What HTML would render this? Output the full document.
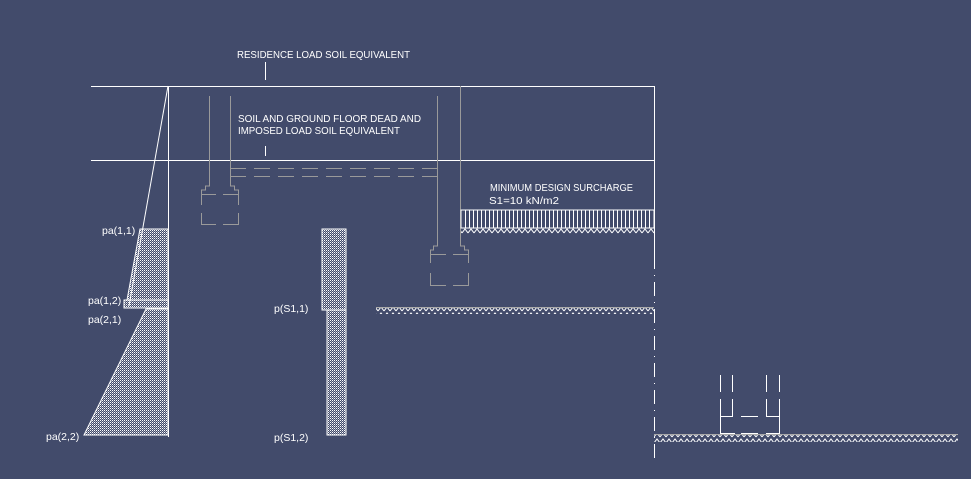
<!DOCTYPE html>
<html><head><style>
html,body{margin:0;padding:0;background:#424b6b;}
svg{display:block}
text{font-family:"Liberation Sans",sans-serif;font-size:10.5px;fill:#fff;}
</style></head><body>
<svg width="971" height="479" viewBox="0 0 971 479" xmlns="http://www.w3.org/2000/svg">
<defs>
<pattern id="dots" width="2" height="2" patternUnits="userSpaceOnUse"><rect width="1" height="1" fill="#fff"/><rect x="1" y="1" width="1" height="1" fill="#fff" opacity="0.5"/></pattern>
<pattern id="gh" width="6" height="6" patternUnits="userSpaceOnUse"><path d="M0 5 L3 1 L6 5" stroke="#fff" stroke-width="1" fill="none"/></pattern>
</defs>
<g stroke="#fff" stroke-width="1" fill="none">
<line x1="91" y1="86.5" x2="654" y2="86.5"/>
<line x1="91" y1="160.5" x2="654" y2="160.5"/>
<line x1="265.5" y1="62" x2="265.5" y2="80"/>
<line x1="265.5" y1="146" x2="265.5" y2="156"/>
<line x1="168.5" y1="86" x2="168.5" y2="437"/>
<line x1="654.5" y1="86" x2="654.5" y2="255"/>
<line x1="654.5" y1="255" x2="654.5" y2="462" stroke-dasharray="14 6 1 6"/>
<line x1="168" y1="86" x2="129" y2="306"/>
</g>
<polygon points="140,229 168,229 168,300 127,300" fill="url(#dots)" stroke="#fff"/>
<rect x="124" y="300" width="44" height="8" fill="url(#dots)" stroke="#fff"/>
<polygon points="146,309 168,309 168,435 84,435" fill="url(#dots)" stroke="#fff"/>
<rect x="322" y="229" width="24" height="81" fill="url(#dots)" stroke="#fff"/>
<rect x="327" y="310" width="19" height="125" fill="url(#dots)" stroke="#fff"/>
<g stroke="#9a9a9a" stroke-width="1" fill="none">
<path d="M209.5 96 V186 H205.5 V190 H201.5 V205 M201.5 213 V224.5 H216 M223 224.5 H238.5 V213 M238.5 205 V190 H234.5 V186 H230.5 V96"/>
<path d="M201 194.5 H216 M223 194.5 H239"/>
<line x1="230" y1="168.5" x2="437" y2="168.5" stroke-dasharray="16 8"/>
<line x1="230" y1="176.5" x2="437" y2="176.5" stroke-dasharray="16 8"/>
<path d="M437.5 96 V246 H433.5 V250 H430.5 V263 M430.5 273 V285.5 H446 M453 285.5 H468.5 V273 M468.5 263 V250 H464.5 V246 H460.5 V86"/>
<path d="M430 254.5 H446 M453 254.5 H469"/>
</g>
<rect x="461" y="210" width="193" height="18" fill="none" stroke="#fff"/>
<g stroke="#fff">
<path d="M465.5 210V228M469.5 210V228M473.5 210V228M477.5 210V228M481.5 210V228M485.5 210V228M489.5 210V228M493.5 210V228M497.5 210V228M501.5 210V228M505.5 210V228M509.5 210V228M513.5 210V228M517.5 210V228M521.5 210V228M525.5 210V228M529.5 210V228M533.5 210V228M537.5 210V228M541.5 210V228M545.5 210V228M549.5 210V228M553.5 210V228M557.5 210V228M561.5 210V228M565.5 210V228M569.5 210V228M573.5 210V228M577.5 210V228M581.5 210V228M585.5 210V228M589.5 210V228M593.5 210V228M597.5 210V228M601.5 210V228M605.5 210V228M609.5 210V228M613.5 210V228M617.5 210V228M621.5 210V228M625.5 210V228M629.5 210V228M633.5 210V228M637.5 210V228M641.5 210V228M645.5 210V228M649.5 210V228"/>
</g>
<rect x="461" y="228" width="193" height="6" fill="url(#gh)"/>
<rect x="376" y="308" width="278" height="6" fill="url(#gh)"/>
<line x1="376" y1="307.5" x2="654" y2="307.5" stroke="#aaa"/>
<rect x="654" y="435" width="304" height="7" fill="url(#gh)"/>
<line x1="654" y1="434.5" x2="958" y2="434.5" stroke="#aaa"/>
<g stroke="#fff" fill="none">
<path d="M720.5 375V392M732.5 375V392M766.5 375V392M779.5 375V392"/>
<path d="M720.5 399V433M732.5 399V416M766.5 399V416M779.5 399V433"/>
<path d="M720 416.5H733M741 416.5H758M766 416.5H780"/>
<path d="M720 433.5H735M741 433.5H758M766 433.5H780"/>
</g>
<text x="237" y="58" textLength="173" lengthAdjust="spacingAndGlyphs">RESIDENCE LOAD SOIL EQUIVALENT</text>
<text x="238" y="122" textLength="183" lengthAdjust="spacingAndGlyphs">SOIL AND GROUND FLOOR DEAD AND</text>
<text x="238" y="134" textLength="162" lengthAdjust="spacingAndGlyphs">IMPOSED LOAD SOIL EQUIVALENT</text>
<text x="490" y="191" textLength="143" lengthAdjust="spacingAndGlyphs">MINIMUM DESIGN SURCHARGE</text>
<text x="489" y="204" textLength="70" lengthAdjust="spacingAndGlyphs">S1=10 kN/m2</text>
<text x="102" y="234">pa(1,1)</text>
<text x="88" y="304">pa(1,2)</text>
<text x="88" y="323">pa(2,1)</text>
<text x="46" y="440">pa(2,2)</text>
<text x="274" y="312">p(S1,1)</text>
<text x="274" y="441">p(S1,2)</text>
</svg>
</body></html>
